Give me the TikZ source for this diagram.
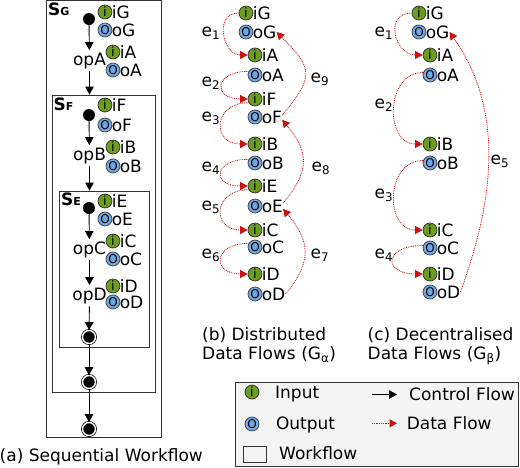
\documentclass[tikz,border=0pt]{standalone}
\usepackage{fontspec}
\setmainfont{DejaVu Sans}
\usetikzlibrary{arrows.meta}
\definecolor{igreen}{HTML}{6C9D1F}
\definecolor{oblue}{HTML}{72A8E2}
\definecolor{dred}{HTML}{CC1010}
\definecolor{legbg}{HTML}{F4F4F4}
\tikzset{
 txt/.style={font=\fontsize{17}{18.5}\selectfont},
 inp/.style={circle, fill=igreen, draw=black!80, line width=0.75pt, minimum size=14pt, inner sep=0pt, font=\fontsize{13}{13}\selectfont},
 outp/.style={circle, fill=oblue, draw=black!75, line width=0.75pt, minimum size=14pt, inner sep=0pt, font=\fontsize{12}{12}\selectfont},
 lbl/.style={txt, anchor=west, inner sep=0pt, text height=12.4pt, text depth=0pt},
 oplbl/.style={txt, inner xsep=0pt, inner ysep=2.5pt, text height=12.4pt, text depth=3.5pt},
 elbl/.style={txt, inner sep=0pt},
 wf/.style={draw=black!80, line width=0.9pt, inner sep=0pt},
 wflbl/.style={anchor=base west, inner sep=0pt, font=\fontsize{17}{17}\selectfont\bfseries},
 startst/.style={circle, fill=black, minimum size=12pt, inner sep=0pt},
 endst/.style={circle, fill=black, draw=black, double=white, double distance=1.4pt, line width=0.7pt, minimum size=13pt, inner sep=0pt},
 cf/.style={draw=black, line width=0.9pt, -{Triangle[length=8pt,width=8.5pt]}},
 dfl/.style={draw=dred, line width=0.8pt, dash pattern=on 0.9pt off 0.9pt, -{Triangle[length=7.5pt,width=8pt]}},
}
\newcommand\iconIn[3]{\node[inp] (#1) at (#2) {i}; \node[lbl] (#1t) at ([xshift=-0.8pt]#1.east) {#3};}
\newcommand\iconOut[3]{\node[outp] (#1) at (#2) {O}; \node[lbl] (#1t) at ([xshift=-0.8pt]#1.east) {#3};}
\begin{document}
\begin{tikzpicture}[x=1pt,y=1pt]
\useasboundingbox (0,0) rectangle (520,-467);

% ---------- (a) Sequential workflow ----------
\node[wf, minimum width=115pt, minimum height=436.5pt] (SG) at (103.5,-218.75) {};
\node[wf, minimum width=103pt, minimum height=297pt] (SF) at (103.5,-243.5) {};
\node[wf, minimum width=90pt, minimum height=156pt] (SE) at (104,-269) {};
\node[wflbl] (SGl) at (48,-15) {S{\fontsize{11}{11}\selectfont G}};
\node[wflbl] (SFl) at (53.5,-110.5) {S{\fontsize{11}{11}\selectfont F}};
\node[wflbl] (SEl) at (61,-205.5) {S{\fontsize{11}{11}\selectfont E}};

\node[startst] (a-sG) at (89,-19) {};
\node[oplbl] (a-opA) at (89.5,-60.75) {opA};
\node[startst] (a-sF) at (89,-115) {};
\node[oplbl] (a-opB) at (89.5,-155.75) {opB};
\node[startst] (a-sE) at (89,-208) {};
\node[oplbl] (a-opC) at (89.5,-249.75) {opC};
\node[oplbl] (a-opD) at (89.5,-295.75) {opD};
\node[endst] (a-eE) at (89,-337) {};
\node[endst] (a-eF) at (89,-382) {};
\node[endst] (a-eG) at (89,-429) {};

\iconIn{a-iG}{105,-12}{iG}
\iconOut{a-oG}{105,-30}{oG}
\iconIn{a-iA}{113,-52}{iA}
\iconOut{a-oA}{113,-70}{oA}
\iconIn{a-iF}{105,-105}{iF}
\iconOut{a-oF}{105,-125}{oF}
\iconIn{a-iB}{113,-147}{iB}
\iconOut{a-oB}{113,-166}{oB}
\iconIn{a-iE}{105,-201}{iE}
\iconOut{a-oE}{105,-219}{oE}
\iconIn{a-iC}{113,-241}{iC}
\iconOut{a-oC}{113,-259}{oC}
\iconIn{a-iD}{113,-286}{iD}
\iconOut{a-oD}{113,-302}{oD}

\draw[cf] (a-sG) -- (a-opA);
\draw[cf] (a-opA) -- (a-opA |- SF.north);
\draw[cf] (a-sF) -- (a-opB);
\draw[cf] (a-opB) -- (a-opB |- SE.north);
\draw[cf] (a-sE) -- (a-opC);
\draw[cf] (a-opC) -- (a-opD);
\draw[cf] (a-opD) -- (a-eE);
\draw[cf] (a-eE) -- (a-eF);
\draw[cf] (a-eF) -- (a-eG);

\node[txt, anchor=west, inner sep=0pt] (capA) at (-0.5,-456.6) {(a) Sequential Workflow};

% ---------- (b) Distributed data flows ----------
\iconIn{b-iG}{246,-13}{iG}
\iconOut{b-oG}{246,-32}{oG}
\iconIn{b-iA}{255,-55}{iA}
\iconOut{b-oA}{255,-75}{oA}
\iconIn{b-iF}{255,-99}{iF}
\iconOut{b-oF}{255,-117}{oF}
\iconIn{b-iB}{255,-144}{iB}
\iconOut{b-oB}{255,-163}{oB}
\iconIn{b-iE}{255,-186}{iE}
\iconOut{b-oE}{255,-206}{oE}
\iconIn{b-iC}{255,-230}{iC}
\iconOut{b-oC}{255,-247}{oC}
\iconIn{b-iD}{255,-274}{iD}
\iconOut{b-oD}{255,-294}{oD}

\draw[dfl] (b-iG.west) to[out=180,in=180,distance=25pt] (b-iA.west);
\draw[dfl] (b-oA.150) to[out=180,in=180,distance=35pt] (b-iF.west);
\draw[dfl] (b-iF.210) to[out=180,in=180,distance=36pt] (b-iB.west);
\draw[dfl] (b-oB.150) to[out=180,in=180,distance=36pt] (b-iE.west);
\draw[dfl] (b-iE.210) to[out=180,in=180,distance=36pt] (b-iC.west);
\draw[dfl] (b-oC.150) to[out=180,in=180,distance=36pt] (b-iD.west);
\draw[dfl] (b-oDt.east) to[out=50,in=-50,distance=42pt] (b-oEt.-15);
\draw[dfl] (b-oEt.15) to[out=50,in=-50,distance=42pt] (b-oFt.-15);
\draw[dfl] (b-oFt.10) to[out=50,in=-45,distance=51pt] (b-oGt.east);

\node[elbl] (b-e1) at (211,-33) {e\textsubscript{1}};
\node[elbl] (b-e2) at (211,-83) {e\textsubscript{2}};
\node[elbl] (b-e3) at (211,-118) {e\textsubscript{3}};
\node[elbl] (b-e4) at (211,-168) {e\textsubscript{4}};
\node[elbl] (b-e5) at (211,-207) {e\textsubscript{5}};
\node[elbl] (b-e6) at (211,-255) {e\textsubscript{6}};
\node[elbl] (b-e7) at (320,-255) {e\textsubscript{7}};
\node[elbl] (b-e8) at (321,-168) {e\textsubscript{8}};
\node[elbl] (b-e9) at (320,-79) {e\textsubscript{9}};

\node[txt, anchor=north west, inner sep=0pt, align=left] (capB) at (202,-327.8) {(b) Distributed\\Data Flows (G\textsubscript{α})};

% ---------- (c) Decentralised data flows ----------
\iconIn{c-iG}{419,-13}{iG}
\iconOut{c-oG}{419,-32}{oG}
\iconIn{c-iA}{430,-55}{iA}
\iconOut{c-oA}{430,-75}{oA}
\iconIn{c-iB}{430,-144}{iB}
\iconOut{c-oB}{430,-163}{oB}
\iconIn{c-iC}{430,-230}{iC}
\iconOut{c-oC}{430,-248}{oC}
\iconIn{c-iD}{430,-274}{iD}
\iconOut{c-oD}{430,-292}{oD}

\draw[dfl] (c-iG.west) to[out=180,in=180,distance=28pt] (c-iA.west);
\draw[dfl] (c-oA.160) to[out=180,in=180,distance=38pt] (c-iB.west);
\draw[dfl] (c-oB.160) to[out=180,in=180,distance=38pt] (c-iC.west);
\draw[dfl] (c-oC.160) to[out=180,in=180,distance=40pt] (c-iD.west);
\draw[dfl] (c-oDt.east) to[out=70,in=-55,distance=97pt] (c-oGt.east);

\node[elbl] (c-e1) at (384,-33) {e\textsubscript{1}};
\node[elbl] (c-e2) at (384,-105) {e\textsubscript{2}};
\node[elbl] (c-e3) at (384,-195) {e\textsubscript{3}};
\node[elbl] (c-e4) at (384,-255) {e\textsubscript{4}};
\node[elbl] (c-e5) at (500,-161) {e\textsubscript{5}};

\node[txt, anchor=north west, inner sep=0pt, align=left] (capC) at (367.5,-327.8) {(c) Decentralised\\Data Flows (G\textsubscript{β})};

% ---------- legend ----------
\node[wf, fill=legbg, minimum width=283pt, minimum height=84pt] (leg) at (376.5,-424) {};
\node[inp] (l-in) at (252,-392) {i};
\node[lbl] (l-int) at (275,-392) {Input};
\node[outp] (l-out) at (252,-424) {O};
\node[lbl] (l-outt) at (275.8,-423.5) {Output};
\node[wf, minimum width=23pt, minimum height=16pt] (l-wf) at (254.5,-454) {};
\node[lbl] (l-wft) at (279,-453.7) {Workflow};
\coordinate (l-cf1) at (372,-394.5);
\coordinate (l-cf2) at (397,-394.5);
\draw[cf] (l-cf1) -- (l-cf2);
\node[lbl] (l-cft) at (409,-394) {Control Flow};
\coordinate (l-df1) at (372,-423.3);
\coordinate (l-df2) at (397,-423.3);
\draw[dfl] (l-df1) -- (l-df2);
\node[lbl] (l-dft) at (406.6,-423) {Data Flow};
\end{tikzpicture}
\end{document}
